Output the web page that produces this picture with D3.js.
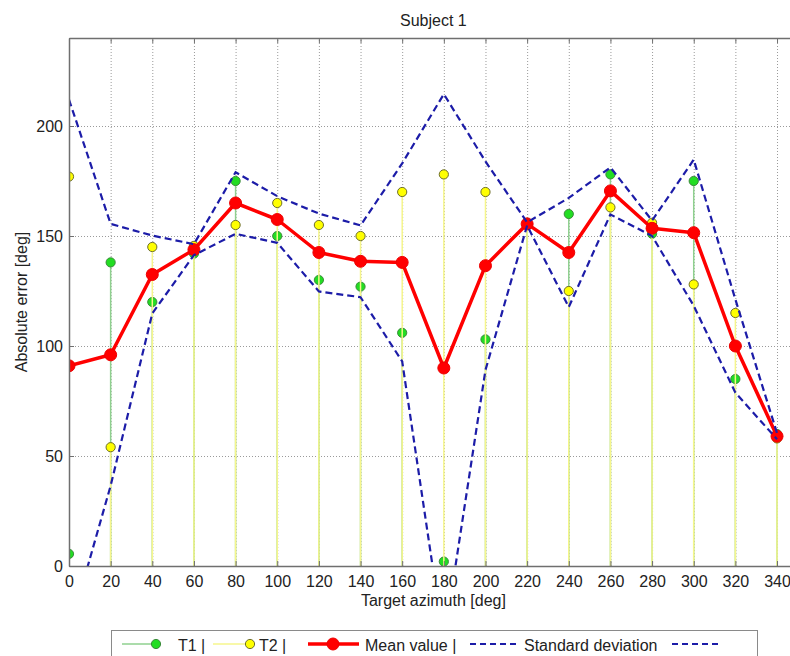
<!DOCTYPE html>
<html>
<head>
<meta charset="utf-8">
<script src="https://cdn.jsdelivr.net/npm/d3@7"></script>
<style>
  body { margin: 0; background: #fff; }
  text { font-family: "Liberation Sans", Arial, sans-serif; fill: #222; }
</style>
</head>
<body>
<svg id="chart"></svg>
<script>
// values
let azimuth = [0, 20, 40, 60, 80, 100, 120, 140, 160, 180, 200, 220, 240, 260, 280, 300, 320, 340];
let t1 = [5.5, 138, 120, 142, 175, 150, 130, 127, 106, 2, 103, 155, 160, 178, 151, 175, 85, 60];
let t2 = [177, 54, 145, 145.5, 155, 165, 155, 150, 170, 178, 170, 156, 125, 163, 156, 128, 115, 58];
let meanValue = [91, 96, 132.5, 143.8, 165, 157.5, 142.5, 138.5, 138, 90, 136.5, 155.5, 142.5, 170.5, 153.5, 151.5, 100, 59];
let stdDev = [121, 59.5, 17.7, 2.5, 14, 10.6, 17.7, 16.3, 45, 124.5, 47.4, 0.7, 24.8, 10.7, 3.5, 33.2, 21.2, 1.4];
let yTicks = [0, 50, 100, 150, 200];

let width = 790;
let height = 656;
let plotLeft = 69, plotTop = 38, plotBottom = 566;

let svg = d3.select("#chart")
  .attr("width", width)
  .attr("height", height);

let x = d3.scaleLinear()
  .domain([0, 350])
  .range([plotLeft, plotLeft + 350 * 2.0824]);

let y = d3.scaleLinear()
  .domain([0, 240])
  .range([plotBottom, plotTop]);

let plotW = x(350) - plotLeft;
let plotH = plotBottom - plotTop;

svg.append("clipPath")
  .attr("id", "plot-clip")
  .append("rect")
  .attr("x", plotLeft)
  .attr("y", plotTop)
  .attr("width", plotW)
  .attr("height", plotH);

//grid
let grid = svg.append("g").attr("class", "grid");
grid.append("g")
  .attr("transform", `translate(0,${plotBottom})`)
  .call(d3.axisBottom(x).tickValues(azimuth).tickSize(-plotH).tickFormat(""))
  .call(g => g.select(".domain").remove());
grid.append("g")
  .attr("transform", `translate(${plotLeft},0)`)
  .call(d3.axisLeft(y).tickValues(yTicks).tickSize(-plotW).tickFormat(""))
  .call(g => g.select(".domain").remove());
grid.selectAll("line")
  .attr("stroke", "#9a9a9a")
  .attr("stroke-width", 1)
  .attr("stroke-dasharray", "1,2");

let plot = svg.append("g").attr("clip-path", "url(#plot-clip)");

//stems, T1 first then T2 over it
function stems(values, lineColor, fill, edge) {
  let g = plot.append("g");
  g.selectAll("line")
    .data(values)
    .enter()
    .append("line")
    .attr("x1", (d, i) => x(azimuth[i]))
    .attr("x2", (d, i) => x(azimuth[i]))
    .attr("y1", y(0))
    .attr("y2", d => y(d))
    .attr("stroke", lineColor)
    .attr("stroke-width", 1.5);
  g.selectAll("circle")
    .data(values)
    .enter()
    .append("circle")
    .attr("cx", (d, i) => x(azimuth[i]))
    .attr("cy", d => y(d))
    .attr("r", 4.6)
    .attr("fill", fill)
    .attr("stroke", edge)
    .attr("stroke-width", 1);
}
stems(t1, "#8fd08f", "#22dd22", "#3a8a3a");
stems(t2, "#f6f68c", "#ffff00", "#6e6e2a");

//mean value
let line = d3.line()
  .x((d, i) => x(azimuth[i]))
  .y(d => y(d));

plot.append("path")
  .datum(meanValue)
  .attr("d", line)
  .attr("fill", "none")
  .attr("stroke", "#ff0000")
  .attr("stroke-width", 3.5)
  .attr("stroke-linejoin", "round");

plot.selectAll("circle.mean")
  .data(meanValue)
  .enter()
  .append("circle")
  .attr("class", "mean")
  .attr("cx", (d, i) => x(azimuth[i]))
  .attr("cy", d => y(d))
  .attr("r", 6)
  .attr("fill", "#ff0000")
  .attr("stroke", "#ee0000");

//standard deviation band
let upper = meanValue.map((m, i) => m + stdDev[i]);
let lower = meanValue.map((m, i) => m - stdDev[i]);
[upper, lower].forEach(s => {
  plot.append("path")
    .datum(s)
    .attr("d", line)
    .attr("fill", "none")
    .attr("stroke", "#1c1ca8")
    .attr("stroke-width", 2.2)
    .attr("stroke-dasharray", "7,4");
});

//axes
let xAxis = svg.append("g")
  .attr("transform", `translate(0,${plotBottom})`)
  .call(d3.axisBottom(x).tickValues(azimuth).tickSize(-5).tickSizeOuter(0).tickPadding(10));
let xTop = svg.append("g")
  .attr("transform", `translate(0,${plotTop})`)
  .call(d3.axisTop(x).tickValues(azimuth).tickSize(-5).tickSizeOuter(0).tickFormat(""));
let yAxis = svg.append("g")
  .attr("transform", `translate(${plotLeft},0)`)
  .call(d3.axisLeft(y).tickValues(yTicks).tickSize(-5).tickSizeOuter(0).tickPadding(6));

[xAxis, xTop, yAxis].forEach(a => {
  a.select(".domain").attr("stroke", "#6f6f6f").attr("stroke-width", 1.5);
  a.selectAll(".tick line").attr("stroke", "#6f6f6f");
  a.selectAll(".tick text")
    .style("font-size", "16px")
    .style("font-family", "Liberation Sans, Arial, sans-serif")
    .attr("fill", "#222");
});

//titles
svg.append("text")
  .attr("x", (plotLeft + x(350)) / 2)
  .attr("y", 26)
  .attr("text-anchor", "middle")
  .style("font-size", "16px")
  .text("Subject 1");

svg.append("text")
  .attr("x", (plotLeft + x(350)) / 2)
  .attr("y", 606)
  .attr("text-anchor", "middle")
  .style("font-size", "16px")
  .text("Target azimuth [deg]");

svg.append("text")
  .attr("transform", `translate(27,${(plotTop + plotBottom) / 2}) rotate(-90)`)
  .attr("text-anchor", "middle")
  .style("font-size", "16px")
  .text("Absolute error [deg]");

//legend
let legend = svg.append("g");
legend.append("rect")
  .attr("x", 111.5)
  .attr("y", 630.5)
  .attr("width", 646)
  .attr("height", 40)
  .attr("fill", "#fff")
  .attr("stroke", "#8a8a8a");

let ly = 644;
let lt = 651;
// T1
legend.append("line").attr("x1", 122).attr("x2", 156).attr("y1", ly).attr("y2", ly)
  .attr("stroke", "#8fd08f").attr("stroke-width", 1.5);
legend.append("circle").attr("cx", 156).attr("cy", ly).attr("r", 4.6)
  .attr("fill", "#22dd22").attr("stroke", "#3a8a3a");
legend.append("text").attr("x", 178).attr("y", lt).style("font-size", "16px").text("T1 |");
// T2
legend.append("line").attr("x1", 213).attr("x2", 250).attr("y1", ly).attr("y2", ly)
  .attr("stroke", "#f6f68c").attr("stroke-width", 1.5);
legend.append("circle").attr("cx", 250).attr("cy", ly).attr("r", 4.6)
  .attr("fill", "#ffff00").attr("stroke", "#6e6e2a");
legend.append("text").attr("x", 259).attr("y", lt).style("font-size", "16px").text("T2 |");
// mean
legend.append("line").attr("x1", 308).attr("x2", 359).attr("y1", ly).attr("y2", ly)
  .attr("stroke", "#ff0000").attr("stroke-width", 3.5);
legend.append("circle").attr("cx", 333).attr("cy", ly).attr("r", 6)
  .attr("fill", "#ff0000").attr("stroke", "#ee0000");
legend.append("text").attr("x", 365).attr("y", lt).style("font-size", "16px").text("Mean value |");
// std
legend.append("line").attr("x1", 470).attr("x2", 519).attr("y1", ly).attr("y2", ly)
  .attr("stroke", "#1c1ca8").attr("stroke-width", 2.2).attr("stroke-dasharray", "6,4");
legend.append("text").attr("x", 524).attr("y", lt).style("font-size", "16px").text("Standard deviation");
legend.append("line").attr("x1", 672).attr("x2", 721).attr("y1", ly).attr("y2", ly)
  .attr("stroke", "#1c1ca8").attr("stroke-width", 2.2).attr("stroke-dasharray", "6,4");
</script>
</body>
</html>
